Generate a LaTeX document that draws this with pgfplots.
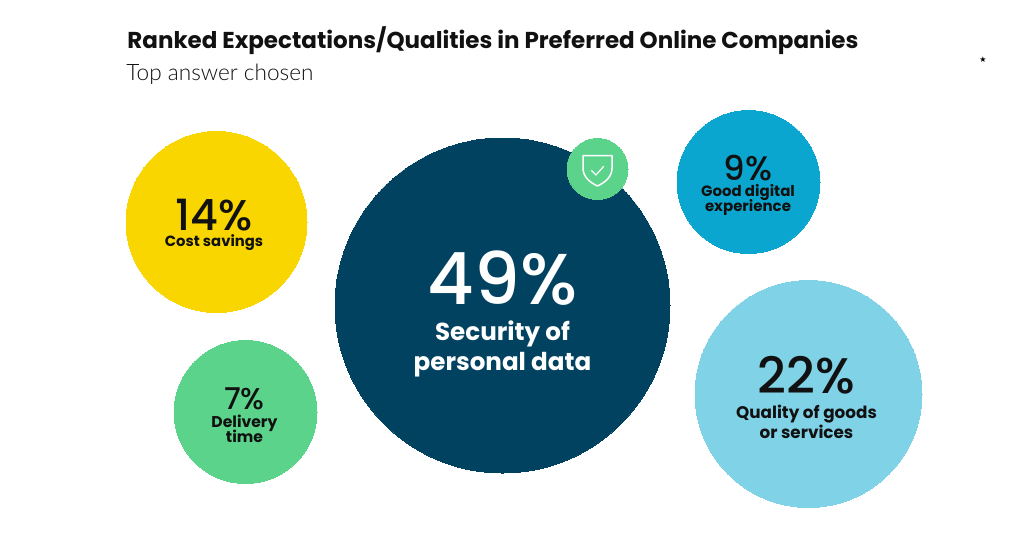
\documentclass[border=0pt]{standalone}
\usepackage{pgfplots}
\pgfplotsset{compat=1.18}
\usepackage{fontspec}
\setmainfont{Poppins}
\IfFontExistsTF{Poppins Medium}{\newfontfamily\medfont{Poppins Medium}}{\newfontfamily\medfont{Poppins}}
\IfFontExistsTF{Lato Light}{\newfontfamily\lightfont{Lato Light}}{\newfontfamily\lightfont{Lato}}
\newfontfamily\symfont{DejaVu Sans}

\definecolor{cyellow}{HTML}{F9D600}
\definecolor{cgreen}{HTML}{5CD38B}
\definecolor{cnavy}{HTML}{00425F}
\definecolor{cblue}{HTML}{0BA6CF}
\definecolor{clight}{HTML}{80D2E6}
\definecolor{ink}{HTML}{111111}

% 1 unit = 1 px of the 1024x538 reference, y grows downwards
\newcommand{\bubble}[4]{% x, y, radius(px), colour
  \addplot[only marks, mark=*, mark size=#3*0.5pt,
           mark options={draw=#4, fill=#4, line width=0pt}] coordinates {(#1,#2)};}

\tikzset{
  pct/.style={anchor=base, inner sep=0pt, text depth=0pt, text height=0.7em},
  lbl/.style={anchor=base, inner sep=0pt, text depth=0pt, text height=0.72em,
              font=\bfseries\fontsize{#1}{#1}\selectfont},
}

\begin{document}
\begin{tikzpicture}
\begin{axis}[
    width=512pt, height=269pt, scale only axis,
    hide axis, clip=false, set layers,
    xmin=0, xmax=1024, ymin=0, ymax=538,
    y dir=reverse,
  ]
  \begin{pgfonlayer}{axis background}
  \fill[white] (axis cs:0,0) rectangle (axis cs:1024,538);
  \end{pgfonlayer}

  % bubbles: centre x, centre y, radius
  \bubble{502.5}{305.5}{167.5}{cnavy}   % 49%
  \bubble{216.5}{222}{90.5}{cyellow}    % 14%
  \bubble{245.5}{412}{71.5}{cgreen}     % 7%
  \bubble{748.5}{182}{71.5}{cblue}      % 9%
  \bubble{808.5}{394}{113.5}{clight}    % 22%
  \bubble{597.5}{169}{30.5}{cgreen}     % shield badge

  \begin{pgfonlayer}{axis foreground}
  % shield icon
  \draw[white, line width=0.75pt, line join=round]
    (axis cs:583,155.5) -- (axis cs:612,155.5) -- (axis cs:612,168)
    .. controls (axis cs:612,177) and (axis cs:605,182.5) .. (axis cs:597.5,186)
    .. controls (axis cs:590,182.5) and (axis cs:583,177) .. (axis cs:583,168) -- cycle;
  \draw[white, line width=0.6pt, line cap=round, line join=round]
    (axis cs:591.5,170.5) -- (axis cs:596,175) -- (axis cs:603.5,166.5);

  % title
  \node[anchor=base west, inner sep=0pt, text=ink, font=\bfseries\fontsize{11.5}{13}\selectfont]
    at (axis cs:127,48.5) {Ranked Expectations/Qualities in Preferred Online Companies};
  \node[anchor=base west, inner sep=0pt, text=ink, font=\lightfont\fontsize{11.3}{13}\selectfont]
    at (axis cs:126,80) {Top answer chosen};
  \node[inner sep=0pt, text=black, font=\symfont\fontsize{4}{4}\selectfont]
    at (axis cs:983,60) {★};

  % 49%
  \node[pct, text=white, font=\medfont\fontsize{36}{36}\selectfont]
    at (axis cs:502.5,304) {49\%};
  \node[lbl=12.3, text=white] at (axis cs:502.5,340) {Security of};
  \node[lbl=12.3, text=white] at (axis cs:502.5,370) {personal data};

  % 14%
  \node[pct, text=ink, font=\medfont\fontsize{21.5}{22}\selectfont]
    at (axis cs:214,230) {14\%};
  \node[lbl=7.4, text=ink] at (axis cs:214,246.5) {Cost savings};

  % 7%
  \node[pct, text=ink, font=\medfont\fontsize{15}{15}\selectfont]
    at (axis cs:244.5,409) {7\%};
  \node[lbl=7.8, text=ink] at (axis cs:244.5,427.5) {Delivery};
  \node[lbl=7.8, text=ink] at (axis cs:244.5,442.5) {time};

  % 9%
  \node[pct, text=ink, font=\medfont\fontsize{17}{17}\selectfont]
    at (axis cs:748,180.5) {9\%};
  \node[lbl=7.5, text=ink] at (axis cs:748,196.5) {Good digital};
  \node[lbl=7.5, text=ink] at (axis cs:748,211.5) {experience};

  % 22%
  \node[pct, text=ink, font=\medfont\fontsize{25}{25}\selectfont]
    at (axis cs:806.5,393) {22\%};
  \node[lbl=8.4, text=ink] at (axis cs:806.5,418) {Quality of goods};
  \node[lbl=8.4, text=ink] at (axis cs:806.5,438) {or services};
  \end{pgfonlayer}
\end{axis}
\end{tikzpicture}
\end{document}
